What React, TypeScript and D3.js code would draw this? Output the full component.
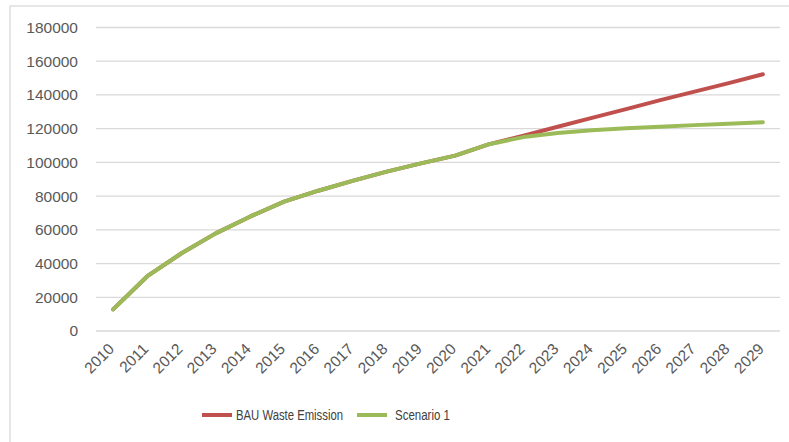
import * as d3 from "d3";

const years = [
  "2010", "2011", "2012", "2013", "2014", "2015", "2016", "2017", "2018", "2019",
  "2020", "2021", "2022", "2023", "2024", "2025", "2026", "2027", "2028", "2029",
];

const bauWaste = [
  12800, 32500, 46100, 57900, 67800, 76700, 83200, 89000, 94500, 99400,
  104000, 110800, 115900, 121100, 126400, 131600, 136900, 142000, 147000, 152300,
];

const scenario1 = [
  12800, 32500, 46100, 57900, 67800, 76700, 83200, 89000, 94500, 99400,
  104000, 110800, 115000, 117400, 119000, 120200, 121200, 122100, 122900, 123800,
];

const yTicks = [0, 20000, 40000, 60000, 80000, 100000, 120000, 140000, 160000, 180000];

const seriesList = [
  { name: "BAU Waste Emission", values: bauWaste, color: "#c0504d" },
  { name: "Scenario 1", values: scenario1, color: "#9bbb59" },
];

export default function App() {
  const width = 789;
  const height = 442;
  const plot = { left: 96, right: 780, top: 27.5, bottom: 331 };

  const x = d3.scaleBand<string>().domain(years).range([plot.left, plot.right]);
  const y = d3.scaleLinear().domain([0, 180000]).range([plot.bottom, plot.top]);
  const cx = (year: string) => (x(year) ?? 0) + x.bandwidth() / 2;

  const line = d3
    .line<number>()
    .x((_, i) => cx(years[i]))
    .y((v) => y(v));

  // legend layout (line start/end, text start, text width)
  const legendItems = [
    { x1: 202, x2: 232, tx: 236, tw: 107 },
    { x1: 357, x2: 387, tx: 395, tw: 55 },
  ];

  return (
    <svg
      width={width}
      height={height}
      style={{ position: "absolute", left: 0, top: 0, display: "block", background: "#fff" }}
      fontFamily="'Liberation Sans', Arial, sans-serif"
    >
      <rect x={10} y={6} width={800} height={460} fill="#fff" stroke="#d9d9d9" strokeWidth={1.3} />

      {yTicks.map((t) => (
        <g key={t}>
          <line x1={plot.left} x2={plot.right} y1={y(t)} y2={y(t)} stroke="#d9d9d9" strokeWidth={1.3} />
          <text x={78} y={y(t)} dy="0.35em" textAnchor="end" fontSize={15.5} fill="#595959">
            {t}
          </text>
        </g>
      ))}

      {years.map((yr) => (
        <text
          key={yr}
          transform={`translate(${cx(yr) + 2},${350}) rotate(-45)`}
          textAnchor="end"
          fontSize={15.5}
          fill="#595959"
        >
          {yr}
        </text>
      ))}

      {seriesList.map((s) => (
        <path
          key={s.name}
          d={line(s.values) ?? ""}
          fill="none"
          stroke={s.color}
          strokeWidth={4}
          strokeLinejoin="round"
          strokeLinecap="round"
        />
      ))}

      {seriesList.map((s, i) => (
        <g key={s.name}>
          <line
            x1={legendItems[i].x1}
            x2={legendItems[i].x2}
            y1={415}
            y2={415}
            stroke={s.color}
            strokeWidth={4}
          />
          <text
            x={legendItems[i].tx}
            y={415}
            dy="0.35em"
            fontSize={14}
            textLength={legendItems[i].tw}
            lengthAdjust="spacingAndGlyphs"
            fill="#404040"
          >
            {s.name}
          </text>
        </g>
      ))}
    </svg>
  );
}
